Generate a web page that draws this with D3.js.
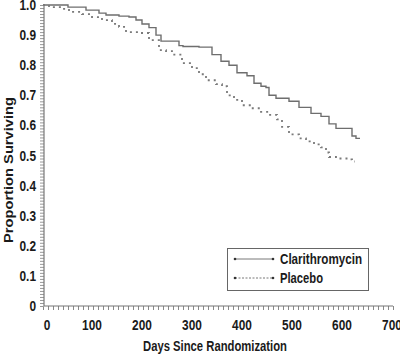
<!DOCTYPE html>
<html>
<head>
<meta charset="utf-8">
<script src="https://cdn.jsdelivr.net/npm/d3@7"></script>
<style>
  body { margin: 0; background: #fff; }
  text { font-family: "Liberation Sans", Arial, sans-serif; fill: #1a1a1a; font-weight: bold; }
</style>
</head>
<body>
<svg id="chart" width="400" height="354"></svg>
<script>
// survival estimates: [day, proportion]
const clarithromycin = [
  [0, 1.0], [50, 0.993], [86, 0.983], [112, 0.973], [126, 0.967], [152, 0.963],
  [172, 0.96], [186, 0.95], [198, 0.937], [212, 0.925], [226, 0.90], [236, 0.88],
  [252, 0.88], [272, 0.865], [280, 0.862], [312, 0.86], [338, 0.835], [356, 0.813],
  [372, 0.80], [388, 0.775], [408, 0.765], [422, 0.74], [436, 0.73], [446, 0.726],
  [452, 0.70], [466, 0.69], [492, 0.68], [512, 0.66], [536, 0.64], [556, 0.63],
  [572, 0.605], [586, 0.59], [614, 0.59], [618, 0.565], [626, 0.557], [634, 0.557]
];
const placebo = [
  [0, 1.0], [12, 0.993], [38, 0.987], [52, 0.977], [78, 0.97], [98, 0.96],
  [118, 0.95], [138, 0.937], [152, 0.927], [166, 0.91], [192, 0.907], [212, 0.883],
  [232, 0.85], [246, 0.847], [258, 0.835], [278, 0.807], [298, 0.79], [312, 0.77],
  [326, 0.75], [346, 0.737], [358, 0.73], [368, 0.70], [382, 0.685], [398, 0.667],
  [416, 0.657], [436, 0.645], [452, 0.635], [468, 0.62], [478, 0.595], [492, 0.57],
  [512, 0.557], [526, 0.547], [542, 0.537], [556, 0.527], [566, 0.51], [572, 0.495],
  [586, 0.49], [612, 0.487], [618, 0.48], [624, 0.48]
];
const xTicks = [0, 100, 200, 300, 400, 500, 600, 700];
const yTicks = [0, 0.1, 0.2, 0.3, 0.4, 0.5, 0.6, 0.7, 0.8, 0.9, 1.0];
const seriesNames = ["Clarithromycin", "Placebo"];

const svg = d3.select("#chart");

const x = d3.scaleLinear().domain([0, 700]).range([43, 393]);
const y = d3.scaleLinear().domain([0, 1]).range([306, 5]);

// condensed look: squeeze text to the widths seen in the picture
const squeeze = (sel, w) => sel.attr("textLength", w).attr("lengthAdjust", "spacingAndGlyphs");

// minor ticks
svg.append("g")
  .attr("transform", "translate(0,306)")
  .call(d3.axisBottom(x).tickValues(d3.range(0, 701, 10)).tickSize(4).tickFormat(""))
  .call(g => g.selectAll("line").attr("stroke", "#888"))
  .call(g => g.select(".domain").remove());

svg.append("g")
  .attr("transform", "translate(44,0)")
  .call(d3.axisLeft(y).tickValues(d3.range(0, 1.001, 0.01)).tickSize(4).tickFormat(""))
  .call(g => g.selectAll("line").attr("stroke", "#999"))
  .call(g => g.select(".domain").remove());

// axis lines
svg.append("line").attr("x1", 44).attr("x2", 393).attr("y1", 306).attr("y2", 306)
  .attr("stroke", "#777").attr("stroke-width", 1.2);
svg.append("line").attr("x1", 44).attr("x2", 44).attr("y1", 4).attr("y2", 306)
  .attr("stroke", "#777").attr("stroke-width", 1.2);

// tick labels
svg.append("g").selectAll("text")
  .data(xTicks)
  .join("text")
  .attr("x", d => x(d) + (d === 0 ? 4 : -1))
  .attr("y", 330)
  .attr("text-anchor", "middle")
  .style("font-size", "14px")
  .text(d => d)
  .each(function(d) { squeeze(d3.select(this), String(d).length * 6.6); });

svg.append("g").selectAll("text")
  .data(yTicks)
  .join("text")
  .attr("x", 36)
  .attr("y", d => y(d) + 5)
  .attr("text-anchor", "end")
  .style("font-size", "14px")
  .text(d => d === 0 ? "0" : d3.format(".1f")(d))
  .each(function(d) { squeeze(d3.select(this), d === 0 ? 6.6 : 16.5); });

// axis titles
svg.append("text")
  .attr("x", 215).attr("y", 351)
  .attr("text-anchor", "middle")
  .style("font-size", "14px")
  .text("Days Since Randomization")
  .call(squeeze, 144);

svg.append("text")
  .attr("transform", "translate(13,170) rotate(-90)")
  .attr("text-anchor", "middle")
  .style("font-size", "13.5px")
  .text("Proportion Surviving")
  .call(squeeze, 146);

// curves
const line = d3.line()
  .x(d => x(d[0]))
  .y(d => y(d[1]))
  .curve(d3.curveStepAfter);

svg.append("path")
  .datum(clarithromycin)
  .attr("d", line)
  .attr("fill", "none")
  .attr("stroke", "#6e6e6e")
  .attr("stroke-width", 1.4);

svg.append("path")
  .datum(placebo)
  .attr("d", line)
  .attr("fill", "none")
  .attr("stroke", "#7a7a7a")
  .attr("stroke-width", 1.8)
  .attr("stroke-dasharray", "2,4");

// legend
const legend = svg.append("g");
legend.append("rect")
  .attr("x", 227.5).attr("y", 248.5)
  .attr("width", 141).attr("height", 42)
  .attr("fill", "#fff").attr("stroke", "#666");

const rows = legend.selectAll("g.row")
  .data(seriesNames)
  .join("g")
  .attr("class", "row")
  .attr("transform", (d, i) => `translate(0,${259 + i * 19})`);

rows.append("line")
  .attr("x1", 235).attr("x2", 273)
  .attr("stroke", "#555")
  .attr("stroke-width", 0.8)
  .attr("stroke-dasharray", (d, i) => i === 0 ? null : "2,1.5");

rows.selectAll("circle")
  .data([235, 273])
  .join("circle")
  .attr("cx", d => d).attr("cy", 0).attr("r", 1.3)
  .attr("fill", "#333");

rows.append("text")
  .attr("x", 280).attr("y", 5)
  .style("font-size", "14px")
  .text(d => d)
  .each(function(d, i) { squeeze(d3.select(this), i === 0 ? 82 : 43); });
</script>
</body>
</html>
